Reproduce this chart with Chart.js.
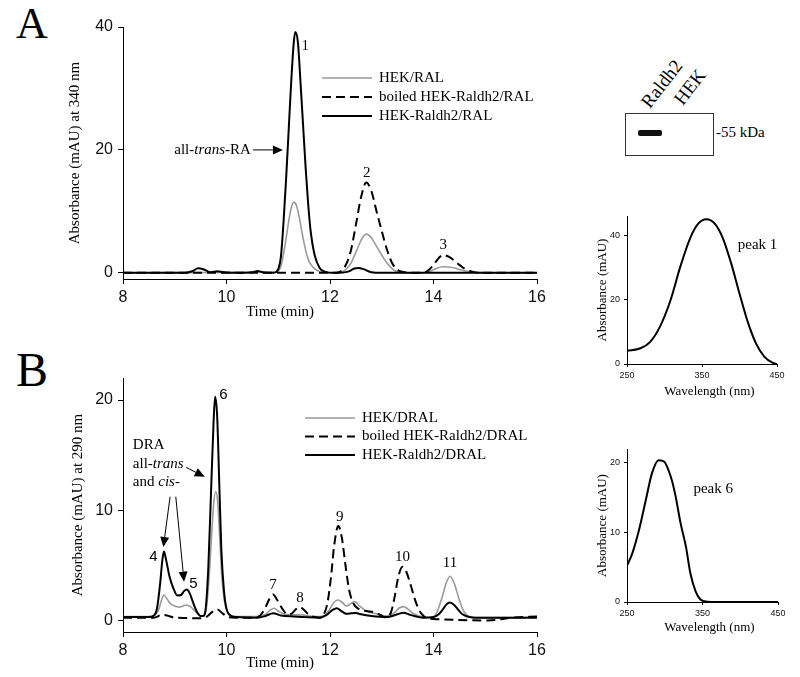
<!DOCTYPE html>
<html>
<head>
<meta charset="utf-8">
<script src="https://cdn.jsdelivr.net/npm/chart.js@4.4.1/dist/chart.umd.min.js"></script>
<style>
  body { margin: 0; background: #fff; width: 800px; height: 677px; position: relative; overflow: hidden; font-family: "Liberation Serif", serif; }
  canvas { position: absolute; }
  .t { position: absolute; line-height: 1; color: #000; white-space: nowrap; }
</style>
</head>
<body>
<div class="t" style="left:16px;top:2px;font-size:44px">A</div>
<div class="t" style="left:16px;top:346px;font-size:48px">B</div>

<canvas id="chartA" width="560" height="330" style="left:0;top:0"></canvas>
<canvas id="chartB" width="560" height="347" style="left:0;top:330px"></canvas>
<canvas id="spec1" width="240" height="205" style="left:560px;top:200px"></canvas>
<canvas id="spec6" width="240" height="247" style="left:560px;top:430px"></canvas>

<!-- western blot inset -->
<div style="position:absolute;left:625px;top:113px;width:87px;height:41px;border:1px solid #333"></div>
<div style="position:absolute;left:638px;top:130px;width:24px;height:6px;background:#111;border-radius:2px;filter:blur(0.7px)"></div>
<div class="t" style="left:716px;top:125px;font-size:15px">-55 kDa</div>
<div class="t" style="left:652px;top:92px;font-size:19px;transform-origin:0 100%;transform:rotate(-52deg)">Raldh2</div>
<div class="t" style="left:685px;top:89px;font-size:19px;transform-origin:0 100%;transform:rotate(-52deg)">HEK</div>

<script>
const SERIF = '"Liberation Serif", "Times New Roman", serif';
const SANS = '"Liberation Sans", Arial, sans-serif';

// ---- Panel A: RAL, 340 nm ----
const timeTicks = [8, 10, 12, 14, 16];
const ticksA = [0, 20, 40];

const hekRalTime = [8, 10.95, 11.0, 11.05, 11.1, 11.15, 11.2, 11.25, 11.3, 11.35, 11.4, 11.45, 11.5, 11.55, 11.6, 11.7, 11.8, 11.9, 12.1, 12.2, 12.3, 12.4, 12.5, 12.6, 12.7, 12.8, 12.9, 13.0, 13.1, 13.2, 13.3, 13.45, 13.7, 13.85, 13.95, 14.05, 14.18, 14.3, 14.4, 14.5, 14.6, 14.75, 14.9, 15.0, 16];
const hekRal = [0, 0.1, 0.3, 1, 3, 5.5, 8.3, 10.5, 11.5, 11, 9.3, 7, 4.8, 3, 1.8, 0.7, 0.2, 0.05, 0, 0.1, 0.5, 1.5, 3.35, 5.3, 6.3, 5.7, 4.3, 2.9, 1.6, 0.7, 0.2, 0.05, 0, 0.05, 0.3, 0.7, 1.0, 0.95, 0.8, 0.55, 0.35, 0.15, 0.03, 0, 0];

const boiledRalTime = [8, 12.1, 12.2, 12.3, 12.4, 12.5, 12.6, 12.7, 12.8, 12.9, 13.0, 13.1, 13.2, 13.3, 13.45, 13.6, 13.8, 13.9, 14.0, 14.1, 14.18, 14.3, 14.4, 14.5, 14.6, 14.75, 14.9, 16];
const boiledRal = [0, 0, 0.2, 1.2, 3.5, 7.8, 12.3, 14.7, 13.3, 10, 6.8, 3.8, 1.6, 0.5, 0.1, 0, 0, 0.4, 1.3, 2.4, 2.9, 2.6, 2.0, 1.3, 0.7, 0.2, 0, 0];

const raldhRalTime = [8, 9.2, 9.35, 9.45, 9.55, 9.7, 9.82, 9.95, 10.2, 10.5, 10.6, 10.7, 10.9, 10.95, 11.0, 11.05, 11.1, 11.15, 11.2, 11.25, 11.3, 11.33, 11.38, 11.43, 11.48, 11.53, 11.58, 11.63, 11.7, 11.8, 11.9, 12.1, 12.35, 12.47, 12.55, 12.65, 12.8, 13.0, 16];
const raldhRal = [0, 0, 0.3, 0.75, 0.6, 0.1, 0.25, 0.1, 0, 0.1, 0.3, 0.1, 0, 0.1, 0.6, 2.5, 8, 15, 23, 31, 37.5, 39.2, 37.5, 31, 24, 17, 11, 6.5, 3, 0.8, 0.2, 0, 0.2, 0.7, 0.8, 0.6, 0.1, 0, 0];

// ---- Panel B: DRAL, 290 nm ----
const ticksB = [0, 10, 20];

const hekDralTime = [8, 8.5, 8.6, 8.68, 8.74, 8.79, 8.85, 8.92, 9.0, 9.08, 9.16, 9.23, 9.3, 9.38, 9.45, 9.52, 9.6, 9.65, 9.7, 9.75, 9.79, 9.83, 9.87, 9.91, 9.96, 10.02, 10.1, 10.3, 10.6, 10.75, 10.85, 10.92, 11.0, 11.1, 11.3, 11.45, 11.6, 11.8, 11.9, 12.0, 12.08, 12.16, 12.24, 12.32, 12.4, 12.48, 12.56, 12.7, 12.9, 13.1, 13.25, 13.33, 13.42, 13.5, 13.6, 13.75, 13.95, 14.03, 14.1, 14.17, 14.25, 14.32, 14.4, 14.48, 14.56, 14.65, 14.75, 15.0, 15.5, 16];
const hekDral = [0.4, 0.4, 0.5, 0.9, 1.8, 2.35, 2.0, 1.55, 1.35, 1.25, 1.35, 1.45, 1.3, 0.95, 0.6, 0.45, 0.9, 3, 6.8, 10.5, 11.7, 10.8, 7.5, 4, 1.8, 0.8, 0.45, 0.4, 0.4, 0.6, 1.0, 1.15, 0.9, 0.65, 0.55, 0.55, 0.45, 0.4, 0.5, 1.1, 1.7, 1.9, 1.65, 1.35, 1.55, 1.75, 1.4, 0.9, 0.65, 0.45, 0.75, 1.15, 1.3, 1.1, 0.7, 0.4, 0.3, 0.5, 1.2, 2.2, 3.5, 4.05, 3.4, 2.2, 1.1, 0.5, 0.3, 0.3, 0.3, 0.35];

const boiledDralTime = [8, 8.6, 8.75, 8.85, 9.0, 9.5, 9.62, 9.72, 9.82, 9.92, 10.03, 10.2, 10.5, 10.65, 10.75, 10.83, 10.9, 10.98, 11.08, 11.18, 11.27, 11.35, 11.42, 11.5, 11.58, 11.8, 11.88, 11.95, 12.02, 12.08, 12.16, 12.23, 12.3, 12.37, 12.45, 12.55, 12.7, 12.85, 12.95, 13.05, 13.1, 13.18, 13.25, 13.32, 13.4, 13.47, 13.55, 13.63, 13.72, 13.82, 13.95, 14.1, 15.05, 15.55, 16];
const boiledDral = [0.3, 0.3, 0.55, 0.5, 0.3, 0.25, 0.4, 0.8, 1.05, 0.7, 0.35, 0.3, 0.3, 0.5, 1.2, 2.0, 2.4, 1.9, 1.1, 0.6, 0.7, 1.1, 1.25, 1.0, 0.6, 0.3, 0.6, 1.6, 4, 6.8, 8.6, 7.5, 5, 2.8, 1.6, 1.1, 0.9, 0.8, 0.6, 0.35, 0.3, 0.8, 2.2, 4, 4.9, 4.5, 3.4, 2.1, 1.0, 0.4, 0.2, 0.15, 0.05, 0.3, 0.4];

const raldhDralTime = [8, 8.5, 8.6, 8.66, 8.72, 8.76, 8.79, 8.83, 8.9, 8.97, 9.05, 9.12, 9.18, 9.23, 9.29, 9.36, 9.42, 9.5, 9.55, 9.6, 9.65, 9.7, 9.75, 9.78, 9.82, 9.86, 9.9, 9.95, 10.0, 10.08, 10.2, 10.6, 10.75, 10.9, 11.05, 11.3, 11.8, 11.95, 12.05, 12.13, 12.22, 12.32, 12.42, 12.5, 12.6, 12.8, 13.1, 13.3, 13.42, 13.55, 13.8, 14.0, 14.1, 14.18, 14.25, 14.32, 14.4, 14.48, 14.56, 14.65, 14.8, 16];
const raldhDral = [0.35, 0.35, 0.5, 1.2, 3.5, 5.5, 6.3, 5.6, 4.0, 3.0, 2.3, 2.35, 2.7, 2.85, 2.5, 1.6, 0.9, 0.45, 0.45, 1.2, 5, 11.5, 18, 20.3, 18.5, 12.5, 6.5, 2.8, 1.1, 0.5, 0.35, 0.3, 0.45, 0.7, 0.5, 0.4, 0.3, 0.6, 1.0, 1.15, 0.9, 0.65, 0.7, 0.72, 0.6, 0.45, 0.35, 0.6, 0.75, 0.55, 0.3, 0.35, 0.6, 1.05, 1.5, 1.66, 1.45, 1.0, 0.6, 0.4, 0.3, 0.3];

// ---- UV spectra ----
const wlTicks = [250, 350, 450];
const ticksSpec1 = [0, 20, 40];
const ticksSpec6 = [0, 10, 20];

const peak1Wl = [250, 268, 281, 294, 308, 321, 334, 345, 356, 367, 378, 389, 400, 411, 422, 433, 444, 450];
const peak1Abs = [4.1, 4.9, 6.9, 11.6, 19.8, 30.2, 39, 43.6, 45, 43.6, 39, 31.2, 21.9, 13.1, 6.4, 2.3, 0.4, 0];

const peak6Wl = [250, 257, 266, 275, 283, 292, 299, 308, 314, 321, 328, 334, 341, 347, 356, 370, 450];
const peak6Abs = [5.2, 7.0, 10.4, 14.7, 18.5, 20.4, 20.2, 18, 15.4, 11.3, 8.0, 4.1, 1.5, 0.4, 0.05, 0, 0];

function pts(xs, ys) {
  return xs.map((x, i) => ({ x: x, y: ys[i] }));
}

const grayLine = { borderColor: '#9a9a9a', borderWidth: 1.6, order: 3 };
const dashLine = { borderColor: '#000', borderWidth: 2, borderDash: [9, 5], order: 2 };
const blackLine = { borderColor: '#000', borderWidth: 2, order: 1 };

function arrow(ctx, x1, y1, x2, y2) {
  const a = Math.atan2(y2 - y1, x2 - x1), L = 10, W = 4.5;
  const bx = x2 - L * Math.cos(a), by = y2 - L * Math.sin(a);
  ctx.beginPath();
  ctx.moveTo(x1, y1);
  ctx.lineTo(bx, by);
  ctx.lineWidth = 1;
  ctx.strokeStyle = '#000';
  ctx.stroke();
  ctx.beginPath();
  ctx.moveTo(x2, y2);
  ctx.lineTo(bx - W * Math.sin(a), by + W * Math.cos(a));
  ctx.lineTo(bx + W * Math.sin(a), by - W * Math.cos(a));
  ctx.closePath();
  ctx.fill();
}

// legend, peak numbers, arrows and x titles
const notes = {
  id: 'notes',
  afterDraw(chart, args, o) {
    const { ctx } = chart;
    const x = chart.scales.x, y = chart.scales.y;
    ctx.save();
    ctx.fillStyle = '#000';
    ctx.textBaseline = 'middle';

    if (o.legend) {
      const L = o.legend;
      chart.data.datasets.forEach((ds, i) => {
        const yy = L.y0 + i * L.dy;
        ctx.beginPath();
        ctx.strokeStyle = ds.borderColor;
        ctx.lineWidth = ds.borderWidth;
        ctx.setLineDash(ds.borderDash || []);
        ctx.moveTo(L.x1, yy);
        ctx.lineTo(L.x2, yy);
        ctx.stroke();
        ctx.setLineDash([]);
        ctx.font = '15px ' + SERIF;
        ctx.textAlign = 'left';
        ctx.fillText(ds.label, L.tx, yy);
      });
    }

    (o.labels || []).forEach(l => {
      ctx.font = l.font || ('15px ' + SERIF);
      ctx.textAlign = l.align || 'center';
      ctx.fillText(l.text, x.getPixelForValue(l.x), y.getPixelForValue(l.y));
    });

    (o.runs || []).forEach(r => {
      let px = x.getPixelForValue(r.x);
      const py = y.getPixelForValue(r.y);
      ctx.textAlign = 'left';
      r.parts.forEach(([t, it]) => {
        ctx.font = (it ? 'italic ' : '') + '15px ' + SERIF;
        ctx.fillText(t, px, py);
        px += ctx.measureText(t).width;
      });
    });

    (o.arrows || []).forEach(a => {
      arrow(ctx, x.getPixelForValue(a[0]), y.getPixelForValue(a[1]),
                 x.getPixelForValue(a[2]), y.getPixelForValue(a[3]));
    });

    if (o.xTitle) {
      ctx.font = o.xTitle.size + 'px ' + SERIF;
      ctx.textAlign = 'center';
      ctx.fillText(o.xTitle.text, o.xTitle.px, o.xTitle.py);
    }
    ctx.restore();
  }
};

function axes(o) {
  return {
    x: {
      type: 'linear', min: o.xMin, max: o.xMax,
      afterBuildTicks: s => { s.ticks = o.xTicks.map(v => ({ value: v })); },
      afterFit: s => { s.height = o.xH; },
      grid: { drawOnChartArea: false, tickLength: o.tl, color: '#000' },
      border: { color: '#000' },
      ticks: { font: { family: SANS, size: o.tickSize }, color: '#111', padding: o.xPad, maxRotation: 0, autoSkip: false }
    },
    y: {
      min: o.yMin, max: o.yMax,
      afterBuildTicks: s => { s.ticks = o.yTicks.map(v => ({ value: v })); },
      afterFit: s => { s.width = o.yW; },
      grid: { drawOnChartArea: false, tickLength: o.tl, color: '#000' },
      border: { color: '#000' },
      ticks: { font: { family: SANS, size: o.tickSize }, color: '#111', padding: o.yPad },
      title: { display: true, text: o.yTitle, color: '#000', font: { family: SERIF, size: o.titleSize }, padding: { top: o.titlePad, bottom: 0 } }
    }
  };
}

function baseOptions(padding, noteOpts, scales) {
  return {
    responsive: false,
    animation: false,
    devicePixelRatio: 1,
    layout: { padding: padding },
    elements: { point: { radius: 0 }, line: { cubicInterpolationMode: 'monotone', fill: false } },
    plugins: { legend: { display: false }, tooltip: { enabled: false }, notes: noteOpts },
    scales: scales
  };
}

new Chart(document.getElementById('chartA'), {
  type: 'line',
  data: {
    datasets: [
      Object.assign({ label: 'HEK/RAL', data: pts(hekRalTime, hekRal) }, grayLine),
      Object.assign({ label: 'boiled HEK-Raldh2/RAL', data: pts(boiledRalTime, boiledRal) }, dashLine),
      Object.assign({ label: 'HEK-Raldh2/RAL', data: pts(raldhRalTime, raldhRal) }, blackLine)
    ]
  },
  options: baseOptions(
    { left: 0, top: 27, right: 23, bottom: 0 },
    {
      legend: { x1: 322, x2: 372, tx: 379, y0: 78, dy: 19 },
      labels: [
        { text: '1', x: 11.52, y: 36.8, font: '14px ' + SERIF },
        { text: '2', x: 12.71, y: 16.2 },
        { text: '3', x: 14.19, y: 4.55 }
      ],
      runs: [{ x: 8.99, y: 20, parts: [['all-'], ['trans', true], ['-RA']] }],
      arrows: [[10.51, 20, 11.09, 20]],
      xTitle: { text: 'Time (min)', size: 15, px: 280, py: 312 }
    },
    axes({ xMin: 8, xMax: 16, xTicks: timeTicks, yMin: -1, yMax: 40, yTicks: ticksA,
           xH: 51, yW: 123, tl: 5, tickSize: 16, xPad: 4, yPad: 5,
           yTitle: 'Absorbance (mAU) at 340 nm', titleSize: 15, titlePad: 66 })
  ),
  plugins: [notes]
});

new Chart(document.getElementById('chartB'), {
  type: 'line',
  data: {
    datasets: [
      Object.assign({ label: 'HEK/DRAL', data: pts(hekDralTime, hekDral) }, grayLine),
      Object.assign({ label: 'boiled HEK-Raldh2/DRAL', data: pts(boiledDralTime, boiledDral) }, dashLine),
      Object.assign({ label: 'HEK-Raldh2/DRAL', data: pts(raldhDralTime, raldhDral) }, blackLine)
    ]
  },
  options: baseOptions(
    { left: 0, top: 48, right: 23, bottom: 0 },
    {
      legend: { x1: 305, x2: 355, tx: 362, y0: 88, dy: 18.5 },
      labels: [
        { text: '4', x: 8.59, y: 5.8, font: '15px ' + SANS },
        { text: '5', x: 9.36, y: 3.4, font: '15px ' + SANS },
        { text: '6', x: 9.94, y: 20.45, font: '15px ' + SANS },
        { text: '7', x: 10.9, y: 3.25 },
        { text: '8', x: 11.42, y: 2.05 },
        { text: '9', x: 12.19, y: 9.45 },
        { text: '10', x: 13.4, y: 5.8 },
        { text: '11', x: 14.32, y: 5.2 }
      ],
      runs: [
        { x: 8.19, y: 15.9, parts: [['DRA']] },
        { x: 8.19, y: 14.2, parts: [['all-'], ['trans', true]] },
        { x: 8.19, y: 12.6, parts: [['and '], ['cis', true], ['-']] }
      ],
      arrows: [[9.22, 13.9, 9.58, 13.06], [8.91, 11.25, 8.78, 6.7], [9.02, 11.25, 9.18, 3.55]],
      xTitle: { text: 'Time (min)', size: 15, px: 280, py: 333 }
    },
    axes({ xMin: 8, xMax: 16, xTicks: timeTicks, yMin: -1, yMax: 22, yTicks: ticksB,
           xH: 45, yW: 123, tl: 5, tickSize: 16, xPad: 4, yPad: 5,
           yTitle: 'Absorbance (mAU) at 290 nm', titleSize: 15, titlePad: 69 })
  ),
  plugins: [notes]
});

new Chart(document.getElementById('spec1'), {
  type: 'line',
  data: { datasets: [Object.assign({ label: 'peak 1', data: pts(peak1Wl, peak1Abs) }, blackLine)] },
  options: baseOptions(
    { left: 0, top: 16, right: 23, bottom: 0 },
    {
      labels: [{ text: 'peak 1', x: 397.7, y: 36.9, align: 'left' }],
      xTitle: { text: 'Wavelength (nm)', size: 13, px: 149.5, py: 192 }
    },
    axes({ xMin: 250, xMax: 450, xTicks: wlTicks, yMin: 0, yMax: 46, yTicks: ticksSpec1,
           xH: 41, yW: 67, tl: 3, tickSize: 9, xPad: 3, yPad: 4,
           yTitle: 'Absorbance (mAU)', titleSize: 13, titlePad: 35 })
  ),
  plugins: [notes]
});

new Chart(document.getElementById('spec6'), {
  type: 'line',
  data: { datasets: [Object.assign({ label: 'peak 6', data: pts(peak6Wl, peak6Abs) }, blackLine)] },
  options: baseOptions(
    { left: 0, top: 19, right: 22, bottom: 0 },
    {
      labels: [{ text: 'peak 6', x: 338, y: 16.3, align: 'left' }],
      xTitle: { text: 'Wavelength (nm)', size: 13, px: 149.5, py: 198 }
    },
    axes({ xMin: 250, xMax: 450, xTicks: wlTicks, yMin: 0, yMax: 22, yTicks: ticksSpec6,
           xH: 75, yW: 67, tl: 3, tickSize: 9, xPad: 3, yPad: 4,
           yTitle: 'Absorbance (mAU)', titleSize: 13, titlePad: 35 })
  ),
  plugins: [notes]
});
</script>
</body>
</html>
